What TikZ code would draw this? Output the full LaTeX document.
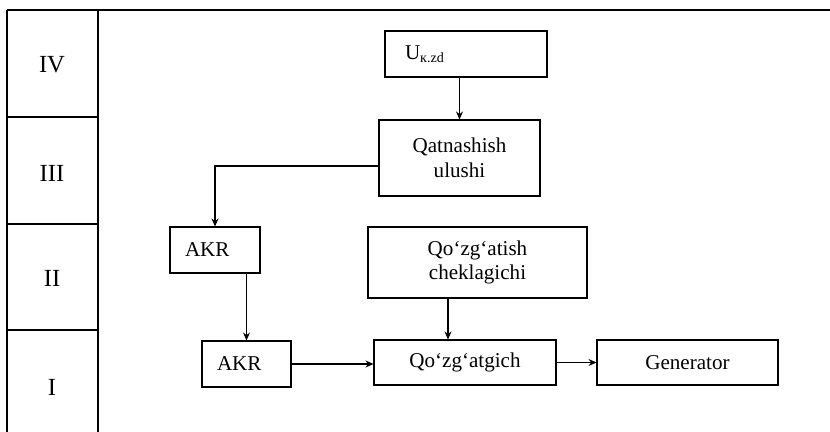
\documentclass[tikz,border=0pt]{standalone}
\usepackage{fontspec}
\setmainfont{Liberation Serif}
\usetikzlibrary{arrows.meta,positioning}
\tikzset{
  unit/.style={draw, line width=0.6pt, align=center, inner sep=2pt, font=\fontsize{12}{14}\selectfont},
  unitl/.style={unit, align=left, inner xsep=0.3cm},
  flow/.style={draw, line width=0.6pt, -{Stealth[length=1.6mm,width=1.4mm]}},
  frame/.style={draw, line width=0.6pt},
  lvl/.style={font=\fontsize{14}{16}\selectfont}
}
\begin{document}
\begin{tikzpicture}
  \useasboundingbox (0,0) rectangle (16.6,-8.64);
  % levels
  \draw[frame] (0.14,-0.2) -- (16.6,-0.2);
  \draw[frame] (0.14,-0.2) -- (0.14,-8.64);
  \draw[frame] (1.96,-0.2) -- (1.96,-8.64);
  \foreach \y in {-2.34,-4.48,-6.6}
    \draw[frame] (0.14,\y) -- (1.96,\y);
  \foreach \y/\t in {-1.3/IV, -3.46/III, -5.56/II, -7.74/I}
    \node[lvl] (lv\t) at (1.04,\y) {\t};
  % blocks
  \node[unitl, inner xsep=0.4cm, text width=2.44cm, minimum height=0.92cm] (uzd) at (9.32,-1.08) {U\textsubscript{к.zd}};
  \node[unit, minimum width=3.22cm, minimum height=1.52cm] (ulush) at (9.19,-3.16) {Qatnashish\\ulushi};
  \node[unitl, text width=1.2cm, minimum height=0.92cm] (akrA) at (4.3,-5.0) {AKR};
  \node[unitl, text width=1.18cm, minimum height=0.92cm] (akrB) at (4.93,-7.28) {AKR};
  \node[unit, minimum width=4.38cm, minimum height=1.42cm] (chek) at (9.55,-5.25) {Qo‘zg‘atish\\cheklagichi};
  \node[unit, minimum width=3.64cm, minimum height=0.9cm] (qoz) at (9.3,-7.25) {Qo‘zg‘atgich};
  \node[unit, minimum width=3.62cm, minimum height=0.9cm] (gen) at (13.75,-7.25) {Generator};
  % links
  \coordinate (cq) at ([xshift=-3.4mm]qoz.north);
  \draw[flow] (uzd.south -| ulush) -- (ulush.north);
  \draw[flow] ([yshift=-1.6mm]ulush.west) -| (akrA.north);
  \draw[flow] (akrA.south -| akrB) -- (akrB.north);
  \draw[flow] (chek.south -| cq) -- (cq);
  \draw[flow] (akrB.east) -- (akrB.east -| qoz.west);
  \draw[flow] (qoz.east) -- (gen.west);
\end{tikzpicture}
\end{document}
